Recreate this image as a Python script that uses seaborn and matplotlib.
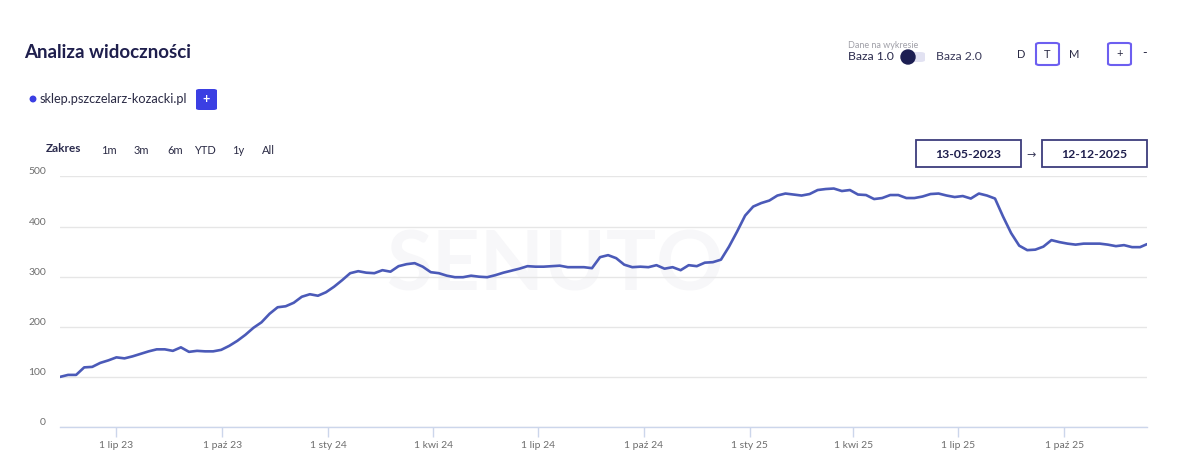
import matplotlib
matplotlib.use("Agg")
import matplotlib.pyplot as plt
from matplotlib.patches import FancyBboxPatch, Ellipse, Rectangle
import seaborn as sns
import pandas as pd

# weekly visibility values (13-05-2023 .. 12-12-2025)
start_date = "2023-05-13"
end_date = "2025-12-12"
visibility = [
    100, 104, 104, 119, 120, 128, 133, 139, 137, 141,
    146, 151, 155, 155, 152, 159, 150, 152, 151, 151,
    154, 162, 172, 184, 198, 209, 226, 239, 241, 248,
    260, 265, 262, 269, 280, 293, 307, 311, 308, 307,
    313, 310, 321, 325, 327, 320, 309, 307, 302, 299,
    299, 302, 300, 299, 303, 308, 312, 316, 321, 320,
    320, 321, 322, 319, 319, 319, 317, 339, 343, 337,
    324, 319, 320, 319, 323, 316, 319, 313, 323, 321,
    328, 329, 334, 360, 390, 422, 440, 447, 452, 462,
    466, 464, 462, 465, 473, 475, 476, 471, 473, 464,
    463, 455, 457, 463, 463, 457, 457, 460, 465, 466,
    462, 459, 461, 456, 466, 462, 456, 420, 387, 362,
    353, 354, 360, 373, 369, 366, 364, 366, 366, 366,
    364, 361, 363, 359, 359,
]
last_value = 365

tick_dates = ["2023-07-01", "2023-10-01", "2024-01-01", "2024-04-01", "2024-07-01",
              "2024-10-01", "2025-01-01", "2025-04-01", "2025-07-01", "2025-10-01"]
tick_labels = ["1 lip 23", "1 paź 23", "1 sty 24", "1 kwi 24", "1 lip 24",
               "1 paź 24", "1 sty 25", "1 kwi 25", "1 lip 25", "1 paź 25"]
y_ticks = [0, 100, 200, 300, 400, 500]

range_buttons = ["1m", "3m", "6m", "YTD", "1y", "All"]
range_x = [101, 134, 167, 194, 232, 262]

dates = list(pd.date_range(start_date, periods=len(visibility), freq="7D")) + [pd.Timestamp(end_date)]
df = pd.DataFrame({"data": dates, "widocznosc": visibility + [last_value]})

sns.set_theme(style="white")
plt.rcParams["font.family"] = ["Lato", "DejaVu Sans"]

W, H = 1200, 469
fig = plt.figure(figsize=(12, 4.69), dpi=100)
fig.patch.set_facecolor("white")


def fx(x):
    return x / W


def fy(y):
    return 1 - y / H


def add_patch(p):
    p.set_transform(fig.transFigure)
    fig.patches.append(p)


ax = fig.add_axes([fx(60), fy(427), fx(1147) - fx(60), fy(176.5) - fy(427)])

# faint watermark
ax.text(0.455, 0.64, "SENUTO", transform=ax.transAxes, ha="center", va="center",
        fontsize=60, fontweight="bold", color="#f7f7f9", zorder=0)

sns.lineplot(data=df, x="data", y="widocznosc", ax=ax, color="#4b5ab8", linewidth=1.9, zorder=3)

ax.set_xlim(pd.Timestamp(start_date), pd.Timestamp(end_date))
ax.set_ylim(0, 500)
ax.set_yticks(y_ticks)
ax.set_xticks(pd.to_datetime(tick_dates))
ax.set_xticklabels(tick_labels)
ax.set_xlabel("")
ax.set_ylabel("")

ax.grid(axis="y", color="#e6e6e6", linewidth=1)
ax.set_axisbelow(True)
for s in ["top", "right", "left"]:
    ax.spines[s].set_visible(False)
ax.spines["bottom"].set_color("#ccd6eb")
ax.spines["bottom"].set_linewidth(1)

ax.tick_params(axis="y", length=0, pad=10, labelsize=7.5, labelcolor="#6e6e6e")
ax.tick_params(axis="x", length=7, width=1, color="#ccd6eb", pad=3, labelsize=7.5,
               labelcolor="#6e6e6e", bottom=True)
for t in ax.get_yticklabels():
    t.set_verticalalignment("bottom")

# header
fig.text(fx(24), fy(53), "Analiza widoczności", fontsize=13.5, fontweight="bold",
         color="#1f1f4d", va="center")

add_patch(Ellipse((fx(33), fy(99)), 5.5 / W, 5.5 / H, color="#3b3fe3"))
fig.text(fx(40), fy(99), "sklep.pszczelarz-kozacki.pl", fontsize=9.2, color="#2b2b45", va="center")
add_patch(FancyBboxPatch((fx(196), fy(110)), 21 / W, 21 / H,
                         boxstyle="round,pad=0,rounding_size=0.003",
                         facecolor="#3b3fe3", edgecolor="none"))
fig.text(fx(206.5), fy(99.5), "+", fontsize=9, fontweight="bold", color="white",
         ha="center", va="center")

# range buttons
fig.text(fx(46), fy(149), "Zakres", fontsize=8.5, fontweight="bold", color="#2b2b4d", va="center")
for lbl, x in zip(range_buttons, range_x):
    fig.text(fx(x), fy(150), lbl, fontsize=8, color="#2b2b45", va="center")

# data source toggle
fig.text(fx(848), fy(45), "Dane na wykresie", fontsize=6.5, color="#a0a0a8", va="center")
fig.text(fx(848), fy(57), "Baza 1.0", fontsize=8.8, color="#2b2b4d", va="center")
fig.text(fx(936), fy(57), "Baza 2.0", fontsize=8.8, color="#3a3a5a", va="center")
add_patch(FancyBboxPatch((fx(904), fy(62)), 21 / W, 10 / H,
                         boxstyle="round,pad=0,rounding_size=0.004",
                         facecolor="#e2e2f2", edgecolor="none"))
add_patch(Ellipse((fx(908), fy(57)), 14 / W, 14 / H, color="#1c1e52"))

# interval buttons
fig.text(fx(1021), fy(54), "D", fontsize=8, color="#2b2b45", ha="center", va="center")
fig.text(fx(1074), fy(54), "M", fontsize=8, color="#2b2b45", ha="center", va="center")
fig.text(fx(1145), fy(53), "-", fontsize=9, color="#2b2b45", ha="center", va="center")
for cx, lbl in [(1047.5, "T"), (1119.5, "+")]:
    add_patch(FancyBboxPatch((fx(cx - 11.5), fy(65)), 23 / W, 22 / H,
                             boxstyle="round,pad=0,rounding_size=0.003",
                             facecolor="white", edgecolor="#6d5ff0", linewidth=1.5))
    fig.text(fx(cx), fy(54), lbl, fontsize=8, color="#2b2b45", ha="center", va="center")

# date range boxes
for x0, lbl in [(916, "13-05-2023"), (1042, "12-12-2025")]:
    add_patch(Rectangle((fx(x0), fy(167)), 105 / W, 27 / H,
                        facecolor="white", edgecolor="#3d3d7c", linewidth=1.3))
    fig.text(fx(x0 + 52.5), fy(154), lbl, fontsize=8.8, fontweight="bold", color="#1f1f4d",
             ha="center", va="center")
fig.text(fx(1031), fy(155), "→", fontsize=8, color="#3a3a5a", ha="center", va="center",
         family=["DejaVu Sans"])

fig.savefig("out.png", dpi=100, facecolor="white")
